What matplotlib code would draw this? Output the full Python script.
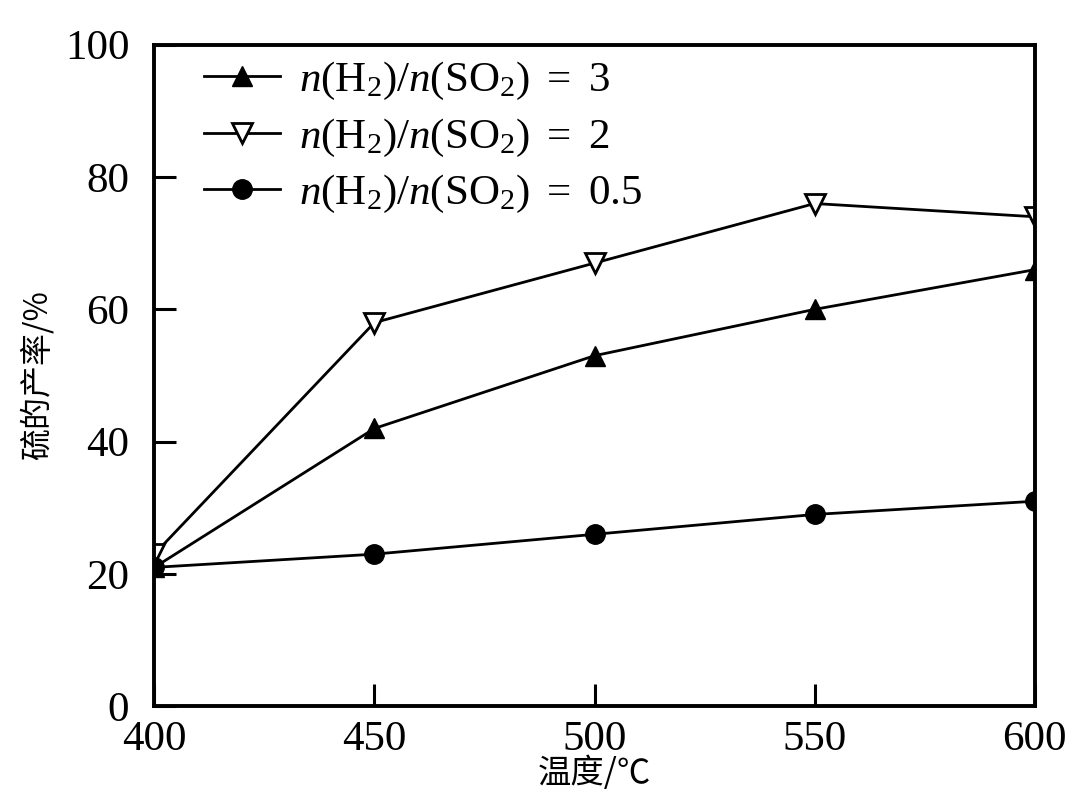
import matplotlib
matplotlib.use("Agg")
import matplotlib.pyplot as plt

# temperature (°C) and sulfur yield (%)
temperature = [400, 450, 500, 550, 600]
yield_ratio3 = [21, 42, 53, 60, 66]
yield_ratio2 = [23, 58, 67, 76, 74]
yield_ratio05 = [21, 23, 26, 29, 31]

labels = [r'$n$(H$_2$)/$n$(SO$_2$) $=$ 3',
          r'$n$(H$_2$)/$n$(SO$_2$) $=$ 2',
          r'$n$(H$_2$)/$n$(SO$_2$) $=$ 0.5']

plt.rcParams['font.family'] = ['Liberation Serif', 'Noto Sans CJK SC', 'DejaVu Sans']
plt.rcParams['mathtext.fontset'] = 'custom'
plt.rcParams['mathtext.rm'] = 'Liberation Serif'
plt.rcParams['mathtext.it'] = 'Liberation Serif:italic'


def main():
    fig = plt.figure(figsize=(10.79, 7.99), dpi=100)
    ax = fig.add_axes([0.143, 0.116, 0.816, 0.828])

    ax.plot(temperature, yield_ratio3, color='black', lw=2, marker='^',
            ms=14, mfc='black', mec='black', label=labels[0])
    ax.plot(temperature, yield_ratio2, color='black', lw=2, marker='v',
            ms=14, mfc='white', mec='black', mew=2, label=labels[1])
    ax.plot(temperature, yield_ratio05, color='black', lw=2, marker='o',
            ms=14, mfc='black', mec='black', label=labels[2])

    ax.set_xlim(400, 600)
    ax.set_ylim(0, 100)
    ax.set_xticks([400, 450, 500, 550, 600])
    ax.set_yticks([0, 20, 40, 60, 80, 100])
    ax.tick_params(direction='in', length=16, width=2.2, labelsize=31,
                   right=False, top=False)
    ax.tick_params(axis='x', pad=10)
    ax.tick_params(axis='y', pad=18)
    for s in ax.spines.values():
        s.set_linewidth(2.8)

    ax.set_xlabel('温度/℃', fontsize=24, family=['Noto Sans CJK SC', 'DejaVu Sans'],
                  labelpad=-2)
    ax.set_ylabel('硫的产率/%', fontsize=23, family=['Noto Sans CJK SC', 'DejaVu Sans'],
                  labelpad=8)

    ax.legend(loc='upper left', bbox_to_anchor=(0.057, 0.977), frameon=False,
              fontsize=31, handlelength=1.75, labelspacing=0.34,
              handletextpad=0.45, borderpad=0, borderaxespad=0)

    fig.savefig('out.png', dpi=100)


if __name__ == '__main__':
    main()
